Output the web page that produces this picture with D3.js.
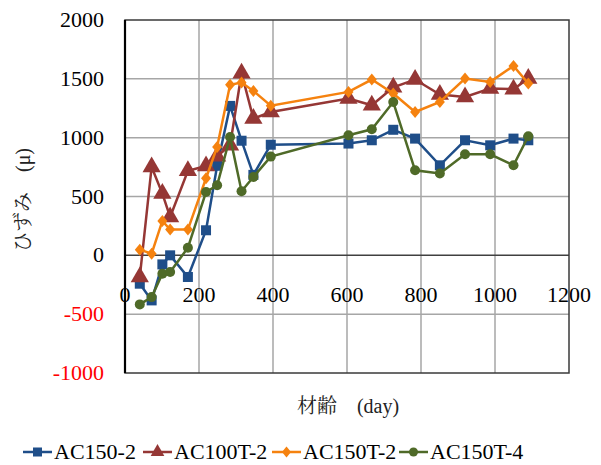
<!DOCTYPE html>
<html>
<head>
<meta charset="utf-8">
<script src="https://cdn.jsdelivr.net/npm/d3@7"></script>
</head>
<body style="margin:0">
<svg id="chart" width="601" height="465"></svg>
<script>
// Days of measurement (shared by all series)
const days = [40, 72, 101, 122, 170, 219, 249, 284, 315, 347, 394, 604, 667, 725, 784, 851, 919, 987, 1050, 1090];

const ac150_2  = [-241, -383, -77, 0, -184, 213, 761, 1270, 974, 684, 940, 950, 978, 1067, 992, 765, 978, 935, 992, 978];
const ac100t_2 = [-184, 751, 525, 326, 718, 759, 842, 935, 1548, 1162, 1218, 1332, 1275, 1428, 1494, 1366, 1346, 1417, 1412, 1503];
const ac150t_2 = [48, 14, 292, 219, 219, 655, 921, 1450, 1468, 1397, 1271, 1389, 1494, 1375, 1218, 1303, 1503, 1474, 1610, 1460];
const ac150t_4 = [-417, -355, -156, -142, 65, 538, 595, 1006, 544, 666, 839, 1020, 1071, 1303, 723, 695, 859, 859, 765, 1012];

const seriesNames = ["AC150-2", "AC100T-2", "AC150T-2", "AC150T-4"];
const xTicks = [0, 200, 400, 600, 800, 1000, 1200];
const yTicks = [-1000, -500, 0, 500, 1000, 1500, 2000];

const W = 601, H = 465;
const margin = { top: 20, right: 32, bottom: 92, left: 125 };

const series = [
  { name: seriesNames[0], values: ac150_2,  color: "#1f4e89", marker: "square" },
  { name: seriesNames[1], values: ac100t_2, color: "#953735", marker: "triangle" },
  { name: seriesNames[2], values: ac150t_2, color: "#f5820f", marker: "diamond" },
  { name: seriesNames[3], values: ac150t_4, color: "#4f6a28", marker: "circle" }
];

const SERIF = '"Liberation Serif"';
const MINCHO = '"Noto Serif CJK JP"';

const svg = d3.select("#chart");

const x = d3.scaleLinear().domain([0, 1200]).range([margin.left, W - margin.right]);
const y = d3.scaleLinear().domain([-1000, 2000]).range([H - margin.bottom, margin.top]);

// grid
const grid = svg.append("g");
grid.selectAll("line.h").data(yTicks.filter(d => d !== 0 && d !== 2000 && d !== -1000)).enter()
  .append("line")
  .attr("x1", x(0)).attr("x2", x(1200))
  .attr("y1", d => y(d)).attr("y2", d => y(d))
  .attr("stroke", "#a6a6a6").attr("stroke-width", 1.5);
grid.selectAll("line.v").data(xTicks.filter(d => d !== 0 && d !== 1200)).enter()
  .append("line")
  .attr("y1", y(-1000)).attr("y2", y(2000))
  .attr("x1", d => x(d)).attr("x2", d => x(d))
  .attr("stroke", "#a6a6a6").attr("stroke-width", 1.5);

// zero line
svg.append("line")
  .attr("x1", x(0)).attr("x2", x(1200))
  .attr("y1", y(0)).attr("y2", y(0))
  .attr("stroke", "#404040").attr("stroke-width", 1.5);

// plot border
svg.append("rect")
  .attr("x", x(0)).attr("y", y(2000))
  .attr("width", x(1200) - x(0)).attr("height", y(-1000) - y(2000))
  .attr("fill", "none").attr("stroke", "#3a3a3a").attr("stroke-width", 1.5);
svg.append("line")
  .attr("x1", x(0)).attr("x2", x(0))
  .attr("y1", y(2000)).attr("y2", y(-1000))
  .attr("stroke", "#000").attr("stroke-width", 2.2);

// y tick labels
svg.append("g").selectAll("text").data(yTicks).enter()
  .append("text")
  .attr("x", 104).attr("y", d => y(d) + 7)
  .attr("text-anchor", "end")
  .style("font-family", SERIF).style("font-size", "22px")
  .attr("fill", d => d < 0 ? "#ff0000" : "#000")
  .text(d => d);

// x tick labels (sit just under the zero line)
svg.append("g").selectAll("text").data(xTicks).enter()
  .append("text")
  .attr("x", d => x(d)).attr("y", y(0) + 47)
  .attr("text-anchor", "middle")
  .style("font-family", SERIF).style("font-size", "22px")
  .attr("fill", "#000")
  .text(d => d);

// axis titles
const xTitle = svg.append("text")
  .attr("x", 348).attr("y", 413)
  .attr("text-anchor", "middle")
  .style("font-family", SERIF).style("font-size", "20px")
  .attr("fill", "#222");
xTitle.append("tspan").style("font-family", MINCHO).text("材齢　");
xTitle.append("tspan").text("(day)");

const yTitle = svg.append("text")
  .attr("transform", "translate(30,200) rotate(-90)")
  .attr("text-anchor", "middle")
  .style("font-family", SERIF).style("font-size", "20px")
  .attr("fill", "#222");
yTitle.append("tspan").style("font-family", MINCHO).text("ひずみ　");
yTitle.append("tspan").text("(μ)");

function drawMarker(g, type, cx, cy, color, s) {
  if (type === "square") {
    g.append("rect").attr("x", cx - s).attr("y", cy - s)
      .attr("width", 2 * s).attr("height", 2 * s).attr("fill", color);
  } else if (type === "triangle") {
    g.append("path").attr("d", d3.symbol(d3.symbolTriangle, s * s * 4)())
      .attr("transform", `translate(${cx},${cy})`).attr("fill", color);
  } else if (type === "diamond") {
    g.append("path").attr("d", `M${cx},${cy - s - 1}L${cx + s},${cy}L${cx},${cy + s + 1}L${cx - s},${cy}Z`)
      .attr("fill", color);
  } else {
    g.append("circle").attr("cx", cx).attr("cy", cy).attr("r", s).attr("fill", color);
  }
}

const line = d3.line().x(d => x(d[0])).y(d => y(d[1]));
const markerSize = { square: 5, triangle: 6, diamond: 5, circle: 5 };

series.forEach(s => {
  const pts = days.map((d, i) => [d, s.values[i]]);
  const g = svg.append("g");
  g.append("path").datum(pts)
    .attr("d", line)
    .attr("fill", "none").attr("stroke", s.color).attr("stroke-width", 2.5);
  pts.forEach(p => drawMarker(g, s.marker, x(p[0]), y(p[1]), s.color, markerSize[s.marker]));
});

// legend
const legendX = [23, 143, 272, 399];
const legend = svg.append("g");
series.forEach((s, i) => {
  const lx = legendX[i], ly = 452;
  legend.append("line")
    .attr("x1", lx).attr("x2", lx + 29).attr("y1", ly).attr("y2", ly)
    .attr("stroke", s.color).attr("stroke-width", 2.5);
  drawMarker(legend, s.marker, lx + 14.5, ly, s.color, 4.5);
  legend.append("text")
    .attr("x", lx + 31).attr("y", ly + 7)
    .style("font-family", SERIF).style("font-size", "22px")
    .attr("fill", "#000")
    .text(s.name);
});
</script>
</body>
</html>
